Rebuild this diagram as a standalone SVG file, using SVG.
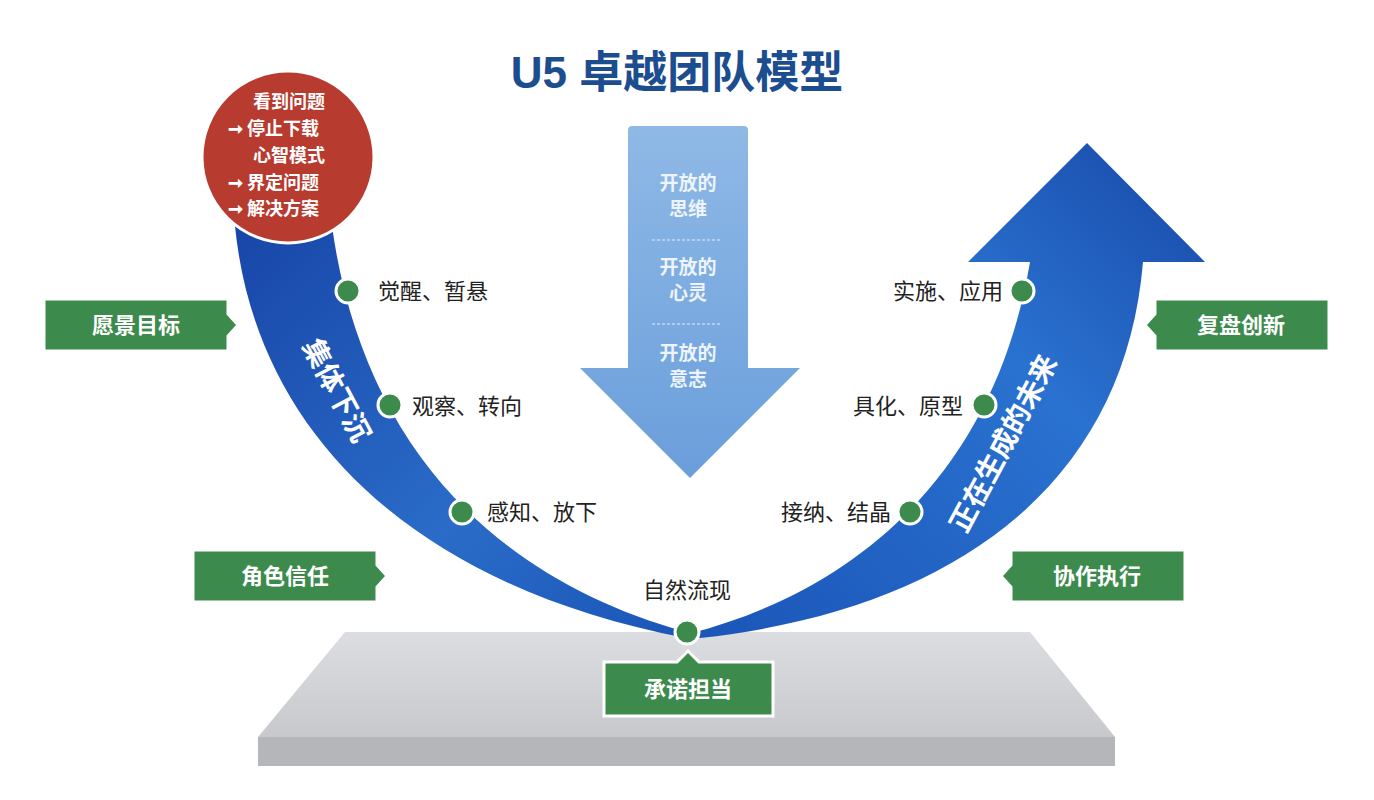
<svg xmlns="http://www.w3.org/2000/svg" width="1374" height="800" viewBox="0 0 1374 800">
<defs>
<linearGradient id="gl" x1="0" y1="0" x2="1" y2="1"><stop offset="0" stop-color="#1846a8"/><stop offset="0.6" stop-color="#2a6cc8"/><stop offset="1" stop-color="#1a55b8"/></linearGradient>
<linearGradient id="gr" x1="0" y1="1" x2="1" y2="0"><stop offset="0" stop-color="#1a55b8"/><stop offset="0.6" stop-color="#2a72d0"/><stop offset="1" stop-color="#1848a8"/></linearGradient>
<linearGradient id="gd" x1="0" y1="0" x2="0" y2="1"><stop offset="0" stop-color="#8fb9e6"/><stop offset="1" stop-color="#6a9edb"/></linearGradient>
<linearGradient id="gp" x1="0" y1="0" x2="0" y2="1"><stop offset="0" stop-color="#dcdde0"/><stop offset="1" stop-color="#c8c9cd"/></linearGradient>
<style>
.g{fill:#3c8a4c;stroke:#fff;stroke-width:3}
.gt{font-family:"Noto Sans CJK SC",sans-serif;font-weight:bold;font-size:22px;fill:#fff;text-anchor:middle}
.lt{font-family:"Noto Sans CJK SC",sans-serif;font-size:22px;fill:#222}
.dot{fill:#3c8a4c;stroke:#fff;stroke-width:3}
.ct{font-family:"Noto Sans CJK SC",sans-serif;font-weight:bold;font-size:19px;fill:#eef4fb;text-anchor:middle}
.rt{font-family:"Noto Sans CJK SC",sans-serif;font-weight:bold;font-size:18px;fill:#fff}
.bt{font-family:"Noto Sans CJK SC",sans-serif;font-weight:bold;font-size:28px;fill:#fff;text-anchor:middle}
</style>
</defs>
<rect width="1374" height="800" fill="#fff"/>
<text x="677" y="88" font-family="Liberation Sans,'Noto Sans CJK SC',sans-serif" font-weight="bold" font-size="44" fill="#1b4d8f" text-anchor="middle">U5 卓越团队模型</text>
<g id="platform">
<polygon points="345,632 1030,632 1115,737 258,737" fill="url(#gp)"/>
<polygon points="258,737 1115,737 1115,766 258,766" fill="#b5b6ba"/>
</g>
<g id="down-arrow">
<path d="M628,130 Q628,126 632,126 L744,126 Q748,126 748,130 L748,368 L800,368 L690,478 L580,368 L628,368 Z" fill="url(#gd)"/>
<text class="ct" x="688" y="190">开放的</text><text class="ct" x="688" y="216">思维</text>
<line x1="652" y1="240" x2="722" y2="240" stroke="#e5eef9" stroke-dasharray="3,2"/>
<text class="ct" x="688" y="274">开放的</text><text class="ct" x="688" y="300">心灵</text>
<line x1="652" y1="324" x2="722" y2="324" stroke="#e5eef9" stroke-dasharray="3,2"/>
<text class="ct" x="688" y="360">开放的</text><text class="ct" x="688" y="386">意志</text>
</g>
<g id="left-band">
<path d="M235,226 C255,430 410,585 686,638 L686,632 C480,575 360,430 332,226 Z" fill="url(#gl)"/>
<text class="bt" transform="translate(328,395) rotate(62)">集体下沉</text>
</g>
<g id="right-arrow">
<path d="M688,634 C860,590 995,470 1030,262 L968,262 L1087,143 L1205,262 L1143,262 C1125,480 960,610 700,638 Z" fill="url(#gr)"/>
<text class="bt" transform="translate(1012,448) rotate(-62)">正在生成的未来</text>
</g>
<g id="red-circle">
<circle cx="288" cy="157" r="86" fill="#b83b30" stroke="#fff" stroke-width="3"/>
<text class="rt" x="253" y="108">看到问题</text>
<text class="rt" x="228" y="135">➞ 停止下载</text>
<text class="rt" x="253" y="162">心智模式</text>
<text class="rt" x="228" y="189">➞ 界定问题</text>
<text class="rt" x="228" y="215">➞ 解决方案</text>
</g>
<g id="connectors">
<circle class="dot" cx="348" cy="291" r="12"/><circle class="dot" cx="390" cy="405" r="12"/><circle class="dot" cx="462" cy="512" r="12"/>
<circle class="dot" cx="687" cy="632" r="12"/>
<circle class="dot" cx="1022" cy="291" r="12"/><circle class="dot" cx="984" cy="405" r="12"/><circle class="dot" cx="910" cy="512" r="12"/>
</g>
<text class="lt" x="378" y="299">觉醒、暂悬</text>
<text class="lt" x="412" y="414">观察、转向</text>
<text class="lt" x="487" y="520">感知、放下</text>
<text class="lt" x="687" y="598" text-anchor="middle">自然流现</text>
<text class="lt" x="1003" y="299" text-anchor="end">实施、应用</text>
<text class="lt" x="963" y="414" text-anchor="end">具化、原型</text>
<text class="lt" x="891" y="520" text-anchor="end">接纳、结晶</text>
<g id="n-vision"><path class="g" d="M44,299 H228 V314 L238,325 L228,336 V351 H44 Z"/><text class="gt" x="136" y="333">愿景目标</text></g>
<g id="n-role"><path class="g" d="M193,550 H377 V565 L387,576 L377,587 V602 H193 Z"/><text class="gt" x="285" y="584">角色信任</text></g>
<g id="n-commit"><path class="g" d="M604,662 H677 L688,651 L699,662 H773 V716 H604 Z"/><text class="gt" x="688" y="697">承诺担当</text></g>
<g id="n-collab"><path class="g" d="M1185,550 H1011 V565 L1001,576 L1011,587 V602 H1185 Z"/><text class="gt" x="1097" y="584">协作执行</text></g>
<g id="n-review"><path class="g" d="M1329,299 H1155 V314 L1145,325 L1155,336 V351 H1329 Z"/><text class="gt" x="1241" y="333">复盘创新</text></g>
</svg>
